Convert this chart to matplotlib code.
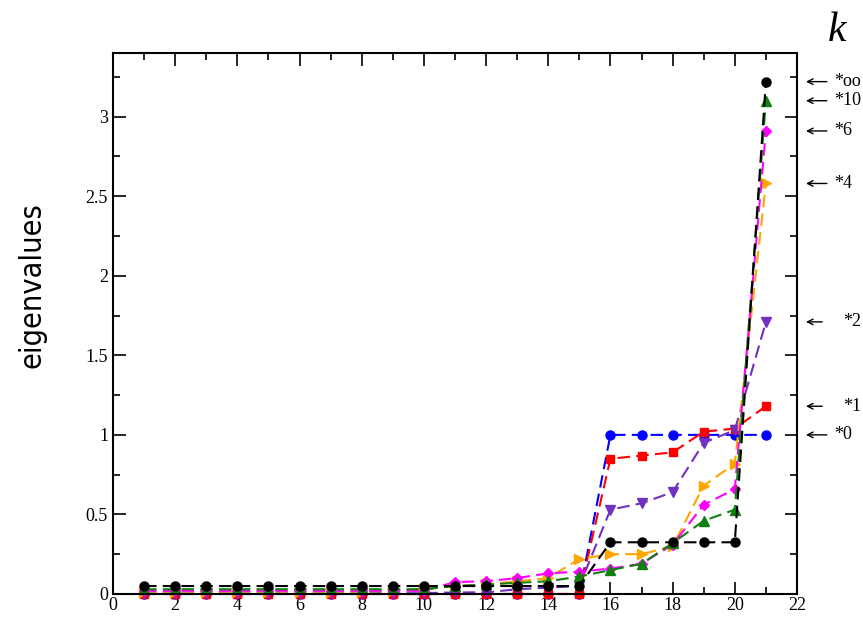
import matplotlib
matplotlib.use("Agg")
import matplotlib.pyplot as plt
from matplotlib.ticker import MultipleLocator

k = list(range(1, 22))

# eigenvalues per series
ev_0 = [0, 0, 0, 0, 0, 0, 0, 0, 0, 0, 0, 0, 0, 0, 0, 1.0, 1.0, 1.0, 1.0, 1.0, 1.0]
ev_1 = [0, 0, 0, 0, 0, 0, 0, 0, 0, 0, 0, 0, 0, 0, 0, 0.85, 0.87, 0.89, 1.02, 1.04, 1.18]
ev_2 = [0.005, 0.005, 0.005, 0.005, 0.005, 0.005, 0.005, 0.005, 0.005, 0.005, 0.01,
        0.01, 0.03, 0.04, 0.05, 0.53, 0.57, 0.64, 0.95, 1.03, 1.71]
ev_4 = [0.015, 0.015, 0.015, 0.015, 0.015, 0.015, 0.015, 0.015, 0.02, 0.03, 0.05,
        0.06, 0.08, 0.10, 0.22, 0.25, 0.25, 0.30, 0.68, 0.82, 2.58]
ev_6 = [0.02, 0.02, 0.02, 0.02, 0.02, 0.02, 0.02, 0.02, 0.02, 0.02, 0.075,
        0.08, 0.10, 0.13, 0.14, 0.16, 0.19, 0.31, 0.56, 0.66, 2.91]
ev_10 = [0.03, 0.03, 0.03, 0.03, 0.03, 0.03, 0.03, 0.03, 0.03, 0.03, 0.05,
         0.06, 0.07, 0.08, 0.11, 0.15, 0.19, 0.32, 0.46, 0.53, 3.10]
ev_oo = [0.05, 0.05, 0.05, 0.05, 0.05, 0.05, 0.05, 0.05, 0.05, 0.05, 0.05,
         0.05, 0.05, 0.05, 0.05, 0.325, 0.325, 0.325, 0.325, 0.325, 3.22]

labels = ["*0", "*1", "*2", "*4", "*6", "*10", "*oo"]
serif = "Liberation Serif"

fig = plt.figure(figsize=(8.63, 6.19), dpi=100)
ax = fig.add_axes([0.1309, 0.0404, 0.7926, 0.874])

series = [
    (ev_0, "#0000ff", "o", 6.5),
    (ev_1, "#ff0000", "s", 6),
    (ev_2, "#7030c0", "v", 7),
    (ev_4, "#ffa500", ">", 7),
    (ev_6, "#ff00ff", "D", 5),
    (ev_10, "#108010", "^", 7),
    (ev_oo, "#000000", "o", 6.5),
]
for vals, col, mk, ms in series:
    ax.plot(k, vals, color=col, marker=mk, markersize=ms, linestyle=(0, (6, 3)),
            linewidth=1.5, clip_on=False)

ax.set_xlim(0, 22)
ax.set_ylim(0, 3.4)
ax.xaxis.set_major_locator(MultipleLocator(2))
ax.xaxis.set_minor_locator(MultipleLocator(1))
ax.yaxis.set_major_locator(MultipleLocator(0.5))
ax.yaxis.set_minor_locator(MultipleLocator(0.25))
ax.tick_params(which="both", direction="in", top=True, right=True, width=1.2)
ax.tick_params(which="major", length=9)
ax.tick_params(which="minor", length=5)
ax.set_xticks(range(0, 23, 2))
ax.set_xticklabels([str(v) for v in range(0, 23, 2)])
ax.set_yticks([0, 0.5, 1, 1.5, 2, 2.5, 3])
ax.set_yticklabels(["0", "0.5", "1", "1.5", "2", "2.5", "3"])
for lab in ax.get_xticklabels() + ax.get_yticklabels():
    lab.set_fontfamily(serif)
    lab.set_fontsize(13)
ax.tick_params(axis="x", pad=2)
for sp in ax.spines.values():
    sp.set_linewidth(1.5)

fig.text(32 / 863, 1 - 285 / 619, "eigenvalues", fontsize=22, rotation=90,
         family=["DejaVu Sans"], fontstretch="condensed", ha="center", va="center")

# right-hand labels with arrows
ends = [ev_0[-1], ev_1[-1], ev_2[-1], ev_4[-1], ev_6[-1], ev_10[-1], ev_oo[-1]]
for lab, yv in zip(labels, ends):
    far = lab in ("*1", "*2")
    tail = 23.05 if not far else 22.9
    tx = 23.2 if not far else 23.5
    ax.annotate("", xy=(22.2, yv), xytext=(tail, yv), annotation_clip=False,
                arrowprops=dict(arrowstyle="->", color="black", lw=1.0))
    ax.text(tx, yv, lab, fontsize=13, family=serif, va="center", ha="left",
            clip_on=False)

fig.text(0.97, 0.95, "k", fontsize=30, family=serif, style="italic",
         ha="center", va="center")

fig.savefig("out.png", dpi=100)
